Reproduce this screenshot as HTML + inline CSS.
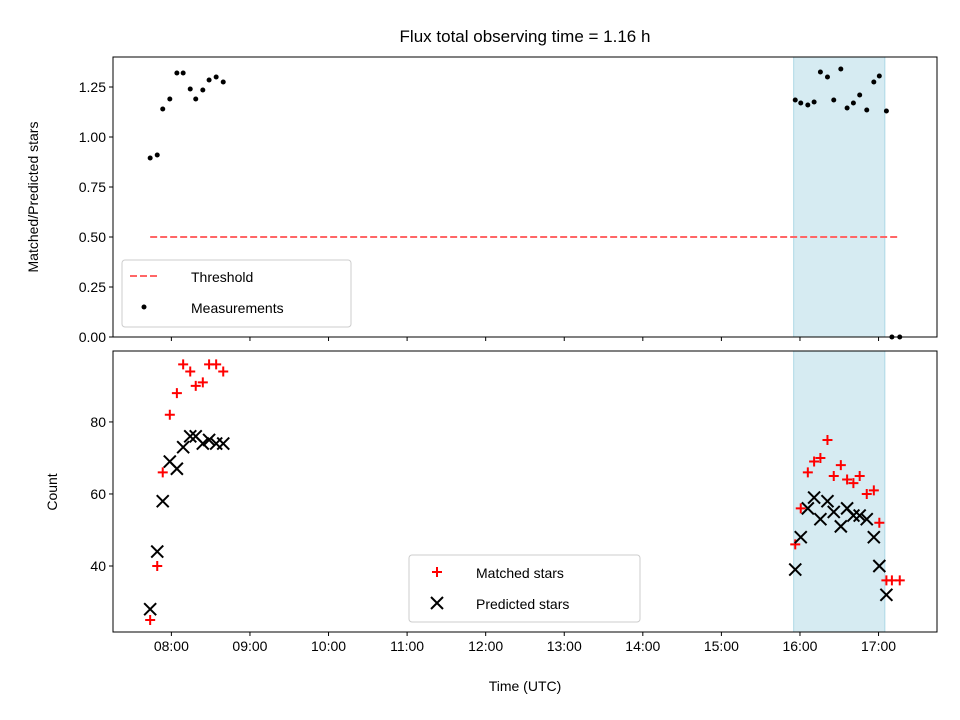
<!DOCTYPE html>
<html><head><meta charset="utf-8"><style>
body{margin:0;background:#fff}
svg{display:block;font-family:"Liberation Sans","DejaVu Sans",sans-serif}
</style></head><body>
<svg id="c" width="960" height="720"></svg>
<script>
const times=[7.73,7.82,7.89,7.98,8.07,8.15,8.24,8.31,8.40,8.48,8.57,8.66,
15.94,16.01,16.10,16.18,16.26,16.35,16.43,16.52,16.60,16.68,16.76,16.85,16.94,17.01,17.10,17.17,17.27];
const ratio=[0.895,0.91,1.14,1.19,1.32,1.32,1.24,1.19,1.235,1.285,1.30,1.275,
1.185,1.17,1.16,1.175,1.325,1.30,1.185,1.34,1.145,1.17,1.21,1.135,1.275,1.305,1.13,0,0];
const matched=[25,40,66,82,88,96,94,90,91,96,96,94,
46,56,66,69,70,75,65,68,64,63,65,60,61,52,36,36,36];
const predicted=[28,44,58,69,67,73,76,76,74,75,74,74,
39,48,56,59,53,58,55,51,56,54,54,53,48,40,32,null,null];
const xTicks=[8,9,10,11,12,13,14,15,16,17];
const yTopTicks=[0,0.25,0.5,0.75,1.0,1.25];
const yBotTicks=[40,60,80];
const threshold=0.5, thrStart=7.73, thrEnd=17.27;
const spanStart=15.92, spanEnd=17.08;

const NS="http://www.w3.org/2000/svg";
const svg=document.getElementById('c');
function el(t,a,p){const e=document.createElementNS(NS,t);for(const k in a)e.setAttribute(k,a[k]);(p||svg).appendChild(e);return e;}
const L=113,R=937,T1=57,B1=337,T2=351,B2=632;
const xs=h=>L+(h-7.257)/(17.744-7.257)*(R-L);
const yt=v=>B1-v/1.4*(B1-T1);
const yb=v=>B2-(v-21.67)/(99.7-21.67)*(B2-T2);

let s=el('rect',{x:xs(spanStart),y:T1,width:xs(spanEnd)-xs(spanStart),height:B1-T1,fill:'#add8e6','fill-opacity':0.5,stroke:'#add8e6'});

s=el('rect',{x:xs(spanStart),y:T2,width:xs(spanEnd)-xs(spanStart),height:B2-T2,fill:'#add8e6','fill-opacity':0.5,stroke:'#add8e6'});


let th=el('line',{x1:xs(thrStart),x2:xs(thrEnd),y1:yt(threshold),y2:yt(threshold),stroke:'#ff6666','stroke-width':2,'stroke-dasharray':'7,3'});


times.forEach((t,i)=>{if(ratio[i]==null)return;
const c=el('circle',{cx:xs(t),cy:yt(ratio[i]),r:2.5,fill:'#000'});
});

times.forEach((t,i)=>{if(matched[i]==null)return;const x=xs(t),y=yb(matched[i]);
const p=el('path',{d:`M${x-5},${y}H${x+5}M${x},${y-5}V${y+5}`,stroke:'#f00','stroke-width':2});
});
times.forEach((t,i)=>{if(predicted[i]==null)return;const x=xs(t),y=yb(predicted[i]);
const p=el('path',{d:`M${x-6},${y-6}L${x+6},${y+6}M${x-6},${y+6}L${x+6},${y-6}`,stroke:'#000','stroke-width':2});
});

[[T1,B1,'top-axes-frame'],[T2,B2,'bottom-axes-frame']].forEach(([a,b,n])=>{
const r=el('rect',{x:L,y:a,width:R-L,height:b-a,fill:'none',stroke:'#000','stroke-width':1});
});

xTicks.forEach(h=>{const x=xs(h);
el('line',{x1:x,x2:x,y1:B1,y2:B1+4,stroke:'#000'});
el('line',{x1:x,x2:x,y1:B2,y2:B2+4,stroke:'#000'});
const t=el('text',{x:x,y:B2+19,'font-size':14,'text-anchor':'middle'});t.textContent=String(h).padStart(2,'0')+':00';
});
yTopTicks.forEach(v=>{const y=yt(v);el('line',{x1:L-4,x2:L,y1:y,y2:y,stroke:'#000'});
const t=el('text',{x:L-7,y:y+5,'font-size':14,'text-anchor':'end'});t.textContent=v.toFixed(2);
});
yBotTicks.forEach(v=>{const y=yb(v);el('line',{x1:L-4,x2:L,y1:y,y2:y,stroke:'#000'});
const t=el('text',{x:L-7,y:y+5,'font-size':14,'text-anchor':'end'});t.textContent=v;
});

function txt(x,y,s,n,extra){const t=el('text',Object.assign({x:x,y:y,'font-size':14},extra||{}));t.textContent=s;
return t;}
txt(525,42,'Flux total observing time = 1.16 h','chart-title',{'font-size':17,'text-anchor':'middle'});
txt(525,691,'Time (UTC)','x-axis-title',{'text-anchor':'middle'});
txt(0,0,'Matched/Predicted stars','y-axis-title-top',{'text-anchor':'middle',transform:`translate(38,197) rotate(-90)`,dx:0});
txt(0,0,'Count','y-axis-title-bottom',{'text-anchor':'middle',transform:`translate(57,492) rotate(-90)`});

let g=el('g',{});
el('rect',{x:122,y:260,width:229,height:67,rx:3,fill:'#fff','fill-opacity':0.8,stroke:'#ccc'},g);
el('line',{x1:130,x2:158,y1:276,y2:276,stroke:'#ff6666','stroke-width':2,'stroke-dasharray':'7,3'},g);
el('circle',{cx:144,cy:307,r:2.5,fill:'#000'},g);
let t=el('text',{x:191,y:282,'font-size':14},g);t.textContent='Threshold';
t=el('text',{x:191,y:313,'font-size':14},g);t.textContent='Measurements';
g=el('g',{});
el('rect',{x:409,y:555,width:231,height:67,rx:3,fill:'#fff','fill-opacity':0.8,stroke:'#ccc'},g);
el('path',{d:'M432,572H442M437,567V577',stroke:'#f00','stroke-width':2},g);
el('path',{d:'M431,597L443,609M431,609L443,597',stroke:'#000','stroke-width':2},g);
t=el('text',{x:476,y:578,'font-size':14},g);t.textContent='Matched stars';
t=el('text',{x:476,y:609,'font-size':14},g);t.textContent='Predicted stars';
</script>
</body></html>
